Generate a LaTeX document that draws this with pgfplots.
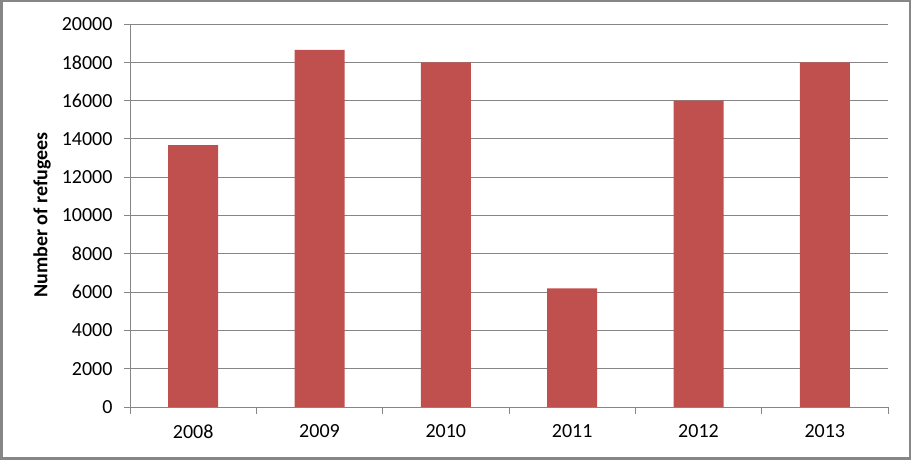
\documentclass[border=0pt]{standalone}
\usepackage{pgfplots}
\pgfplotsset{compat=1.18}
\usepackage{fontspec}
\setmainfont{Carlito}
\definecolor{barred}{HTML}{C0504D}
\definecolor{axgray}{HTML}{868686}
\begin{document}
\begin{tikzpicture}[x=1bp,y=1bp]
\useasboundingbox (0,0) rectangle (911,460);
\draw[axgray,line width=2.5bp] (1.25,1.25) rectangle (909.75,458.75);
\begin{axis}[
  at={(130bp,53bp)}, anchor=south west,
  scale only axis, width=758bp, height=383bp,
  xmin=-0.5, xmax=5.5, ymin=0, ymax=20000,
  axis x line*=bottom, axis y line*=left,
  axis line style={axgray, line width=0.8bp, -},
  xtick={0,1,2,3,4,5},
  xticklabels={2008,2009,2010,2011,2012,2013},
  major x tick style={draw=none},
  minor xtick={-0.5,0.5,1.5,2.5,3.5,4.5,5.5},
  minor x tick style={axgray, line width=0.8bp},
  minor tick length=7bp,
  ytick={0,2000,...,20000},
  major tick length=6bp,
  y tick style={axgray, line width=0.8bp},
  tick align=outside,
  ymajorgrids, grid style={axgray, line width=0.8bp},
  scaled y ticks=false,
  yticklabel style={/pgf/number format/1000 sep={}, font=\fontsize{20bp}{23bp}\selectfont, xshift=-8bp},
  xticklabel style={font=\fontsize{20bp}{23bp}\selectfont, yshift=-8bp},
  /pgf/number format/assume math mode=true,
  clip=false,
]
\addplot[ybar, bar width=50bp, fill=barred, draw=none] coordinates {
  (0,13680) (1,18650) (2,18000) (3,6200) (4,16000) (5,18000)
};
\end{axis}
\node[rotate=90, font=\fontsize{20bp}{23bp}\selectfont\bfseries] at (42,245) {Number of refugees};
\end{tikzpicture}
\end{document}
